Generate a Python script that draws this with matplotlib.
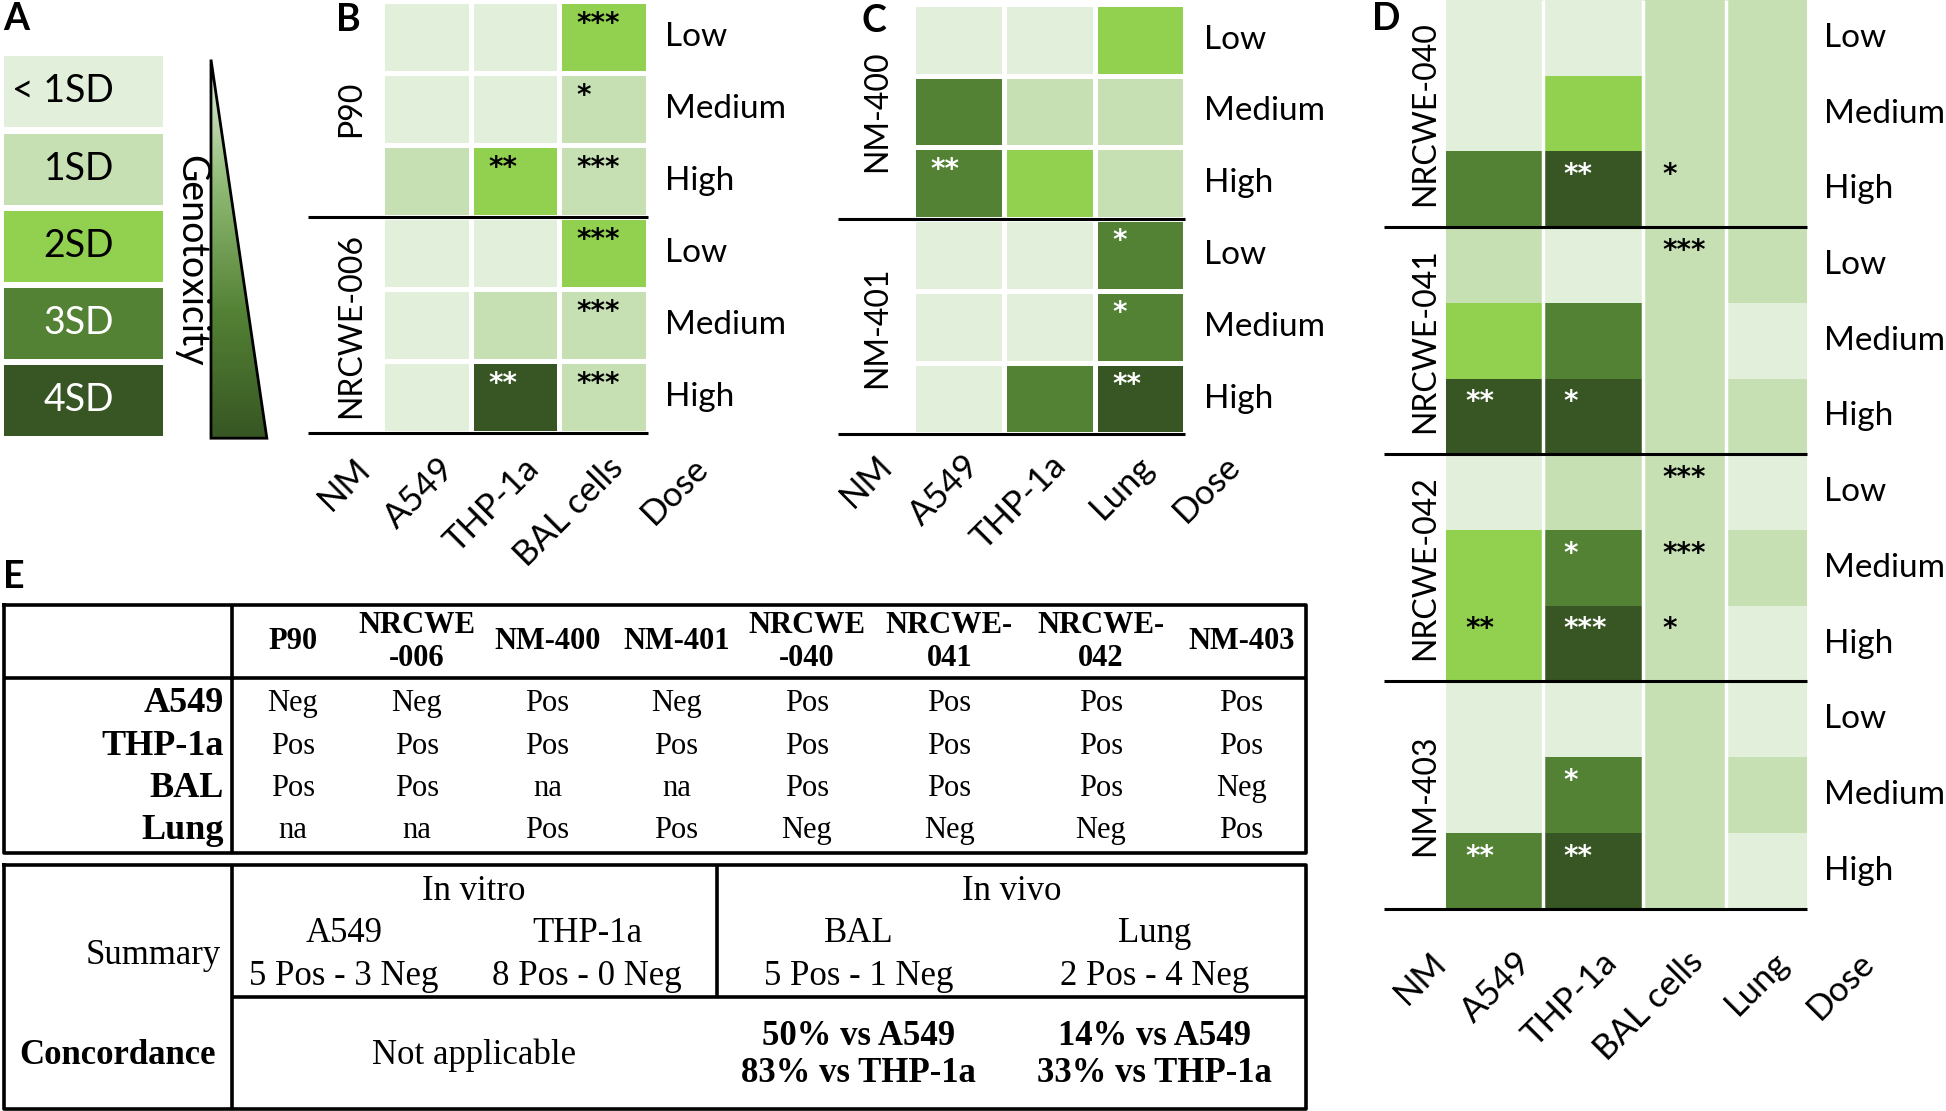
import numpy as np
import matplotlib
matplotlib.use('Agg')
from matplotlib import pyplot as plt
from matplotlib.colors import ListedColormap, LinearSegmentedColormap
from matplotlib.patches import Polygon

plt.rcParams['font.family'] = ['Lato', 'DejaVu Sans']

# genotoxicity classes
sd_labels = ['< 1SD', '1SD', '2SD', '3SD', '4SD']
sd_colors = ['#e2efda', '#c6e0b4', '#92d050', '#548235', '#375623']
doses = ['Low', 'Medium', 'High']

# B: P90 / NRCWE-006, columns A549, THP-1a, BAL cells
B_nm = ['P90', 'NRCWE-006']
B_cols = ['NM', 'A549', 'THP-1a', 'BAL cells', 'Dose']
B_levels = [[0, 0, 2], [0, 0, 1], [1, 2, 1],
            [0, 0, 2], [0, 1, 1], [0, 4, 1]]
B_stars = [['', '', '***'], ['', '', '*'], ['', '**', '***'],
           ['', '', '***'], ['', '', '***'], ['', '**', '***']]

# C: NM-400 / NM-401, columns A549, THP-1a, Lung
C_nm = ['NM-400', 'NM-401']
C_cols = ['NM', 'A549', 'THP-1a', 'Lung', 'Dose']
C_levels = [[0, 0, 2], [3, 1, 1], [3, 2, 1],
            [0, 0, 3], [0, 0, 3], [0, 3, 4]]
C_stars = [['', '', ''], ['', '', ''], ['**', '', ''],
           ['', '', '*'], ['', '', '*'], ['', '', '**']]

# D: NRCWE-040/041/042, NM-403, columns A549, THP-1a, BAL cells, Lung
D_nm = ['NRCWE-040', 'NRCWE-041', 'NRCWE-042', 'NM-403']
D_cols = ['NM', 'A549', 'THP-1a', 'BAL cells', 'Lung', 'Dose']
D_levels = [[0, 0, 1, 1], [0, 2, 1, 1], [3, 4, 1, 1],
            [1, 0, 1, 1], [2, 3, 1, 0], [4, 4, 1, 1],
            [0, 1, 1, 0], [2, 3, 1, 1], [2, 4, 1, 0],
            [0, 0, 1, 0], [0, 3, 1, 1], [3, 4, 1, 0]]
D_stars = [['', '', '', ''], ['', '', '', ''], ['', '**', '*', ''],
           ['', '', '***', ''], ['', '', '', ''], ['**', '*', '', ''],
           ['', '', '***', ''], ['', '*', '***', ''], ['**', '***', '*', ''],
           ['', '', '', ''], ['', '*', '', ''], ['**', '**', '', '']]

# E: table
E_nm = ['P90', 'NRCWE\n-006', 'NM-400', 'NM-401', 'NRCWE\n-040',
        'NRCWE-\n041', 'NRCWE-\n042', 'NM-403']
E_assays = ['A549', 'THP-1a', 'BAL', 'Lung']
E_calls = [['Neg', 'Neg', 'Pos', 'Neg', 'Pos', 'Pos', 'Pos', 'Pos'],
           ['Pos', 'Pos', 'Pos', 'Pos', 'Pos', 'Pos', 'Pos', 'Pos'],
           ['Pos', 'Pos', 'na', 'na', 'Pos', 'Pos', 'Pos', 'Neg'],
           ['na', 'na', 'Pos', 'Pos', 'Neg', 'Neg', 'Neg', 'Pos']]
sum_groups = ['In vitro', 'In vivo']
sum_assays = ['A549', 'THP-1a', 'BAL', 'Lung']
sum_counts = ['5 Pos - 3 Neg', '8 Pos - 0 Neg', '5 Pos - 1 Neg', '2 Pos - 4 Neg']
concordance = ['50% vs A549\n83% vs THP-1a', '14% vs A549\n33% vs THP-1a']

SW, SH = 1568, 895
fig = plt.figure(figsize=(19.46, 11.11), dpi=100)
ax = fig.add_axes([0, 0, 1, 1])
ax.set_xlim(0, SW)
ax.set_ylim(SH, 0)
ax.axis('off')

cmap = ListedColormap(sd_colors)
FS = 24
SERIF = 'Liberation Serif'


def heatmap(levels, stars, x_edges, y0, y1, row_gaps=True, sdx=14, sdy=18):
    levels = np.array(levels)
    y_edges = np.linspace(y0, y1, levels.shape[0] + 1)
    if row_gaps:
        ax.pcolormesh(x_edges, y_edges, levels, cmap=cmap, vmin=-0.5, vmax=4.5,
                      edgecolors='white', linewidth=2.5)
    else:
        ax.pcolormesh(x_edges, y_edges, levels, cmap=cmap, vmin=-0.5, vmax=4.5)
        ax.vlines(x_edges[1:-1], y0, y1, color='white', lw=2.5)
    for i in range(levels.shape[0]):
        for j in range(levels.shape[1]):
            if stars[i][j]:
                ax.text(x_edges[j] + sdx, y_edges[i] + sdy, stars[i][j],
                        color='white' if levels[i, j] >= 3 else 'black',
                        fontsize=20, fontweight='bold', family='DejaVu Sans',
                        ha='left', va='center')
    return y_edges


def frame(groups, cols, y_edges, line_x0, x_right, label_x, dose_x,
          col_x0, col_dx, col_y):
    for g, name in enumerate(groups):
        ya, yb = y_edges[3 * g], y_edges[3 * g + 3]
        ax.text(label_x, (ya + yb) / 2, name, rotation=90, ha='center',
                va='center', fontsize=23)
        ax.hlines(yb, line_x0, x_right, color='black', lw=2.2)
    for i in range(len(y_edges) - 1):
        ax.text(dose_x, (y_edges[i] + y_edges[i + 1]) / 2, doses[i % 3],
                ha='left', va='center', fontsize=FS)
    for k, c in enumerate(cols):
        ax.text(col_x0 + k * col_dx, col_y, c, rotation=45, rotation_mode='anchor',
                ha='right', va='top', fontsize=FS + 1)


# ---- A: legend
box_top = np.array([45, 108, 170, 232, 294])
box_h = 57
ax.barh(box_top + box_h / 2, 128, height=box_h, left=3, color=sd_colors)
for k, lab in enumerate(sd_labels):
    ax.text(92, box_top[k] + box_h / 2, lab, ha='right', va='center',
            fontsize=27, color='white' if k >= 3 else 'black')
tri = Polygon([(170, 48), (170, 353), (215, 353)], closed=True,
              facecolor='none', edgecolor='black', lw=2, zorder=3)
ax.add_patch(tri)
grad = LinearSegmentedColormap.from_list('g', ['#e6f1df', '#8fba74', '#548235', '#375623'])
im = ax.imshow(np.linspace(0, 1, 256).reshape(-1, 1), cmap=grad, aspect='auto',
               extent=(170, 215, 353, 48), zorder=2)
im.set_clip_path(tri)
ax.set_xlim(0, SW)
ax.set_ylim(SH, 0)
ax.text(154, 210, 'Genotoxicity', rotation=-90, ha='center', va='center', fontsize=27)

# ---- B
yB = heatmap(B_levels, B_stars, np.linspace(308, 522, 4), 1, 349)
frame(B_nm, B_cols, yB, 248, 522, 283, 536, 285, 68, 364)

# ---- C
yC = heatmap(C_levels, C_stars, np.linspace(736, 955, 4), 3, 350)
frame(C_nm, C_cols, yC, 675, 955, 707, 970, 706, 70, 362)

# ---- D
xD = np.array([1165, 1243.5, 1323.5, 1390.5, 1456])
yD = heatmap(D_levels, D_stars, xD, 0, 732, row_gaps=False, sdx=16, sdy=19)
frame(D_nm, D_cols, yD, 1115, 1456, 1148, 1470, 1152, 69, 762)

# panel letters
for lab, (x, y) in zip('ABCDE', [(13, 15), (281, 16), (704, 17), (1117, 15), (11, 465)]):
    ax.text(x, y, lab, ha='center', va='center', fontsize=27, fontweight='bold')

# ---- E: table of calls
tx = np.array([236, 336, 441, 545, 650, 765, 887, 1000])
ty = np.array([567, 601, 635, 669])
lw_t = 2.6
ax.plot([3, 1052, 1052, 3, 3], [487, 487, 687, 687, 487], color='black', lw=lw_t)
ax.hlines(546, 3, 1052, color='black', lw=lw_t)
ax.vlines(187, 487, 687, color='black', lw=lw_t)
for k, h in enumerate(E_nm):
    ax.text(tx[k], 517, h, ha='center', va='center', ma='center', fontsize=22,
            fontweight='bold', family=SERIF, linespacing=1.2)
for r, a in enumerate(E_assays):
    ax.text(180, ty[r], a, ha='right', va='center', fontsize=26,
            fontweight='bold', family=SERIF)
    for k, v in enumerate(E_calls[r]):
        ax.text(tx[k], ty[r], v, ha='center', va='center', fontsize=22, family=SERIF)

# ---- E: summary / concordance
ax.plot([3, 1052, 1052, 3, 3], [697, 697, 893, 893, 697], color='black', lw=lw_t)
ax.hlines(803, 187, 1052, color='black', lw=lw_t)
ax.vlines(187, 697, 893, color='black', lw=lw_t)
ax.vlines(578, 697, 803, color='black', lw=lw_t)
ax.text(178, 770, 'Summary', ha='right', va='center', fontsize=25, family=SERIF)
for k, g in enumerate(sum_groups):
    ax.text([382, 815][k], 718, g, ha='center', va='center', fontsize=25, family=SERIF)
sx = [277, 473, 692, 930]
for k in range(4):
    ax.text(sx[k], 752, sum_assays[k], ha='center', va='center', fontsize=25, family=SERIF)
    ax.text(sx[k], 787, sum_counts[k], ha='center', va='center', fontsize=25, family=SERIF)
ax.text(95, 850, 'Concordance', ha='center', va='center', fontsize=25,
        fontweight='bold', family=SERIF)
ax.text(382, 850, 'Not applicable', ha='center', va='center', fontsize=25, family=SERIF)
for k, c in enumerate(concordance):
    ax.text(sx[k + 2], 850, c, ha='center', va='center', ma='center', fontsize=25,
            fontweight='bold', family=SERIF, linespacing=1.15)

fig.savefig('out.png', dpi=100)
